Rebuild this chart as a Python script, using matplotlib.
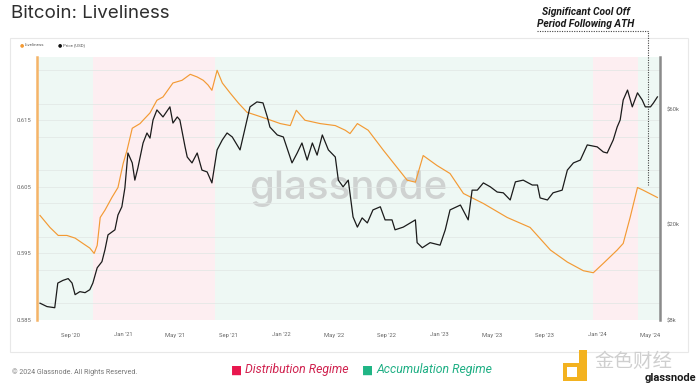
import numpy as np
import pandas as pd
import matplotlib
matplotlib.use("Agg")
import matplotlib.pyplot as plt
import matplotlib.dates as mdates
from matplotlib.patches import Rectangle
from matplotlib.lines import Line2D

# liveliness (left axis)
live_dates = ["2020-06-22", "2020-07-15", "2020-08-03", "2020-08-23", "2020-09-11", "2020-09-29",
              "2020-10-15", "2020-10-25", "2020-11-01", "2020-11-08", "2020-11-19", "2020-12-05",
              "2020-12-19", "2020-12-31", "2021-01-09", "2021-01-21", "2021-02-08", "2021-02-15",
              "2021-03-03", "2021-03-19", "2021-04-02", "2021-04-25", "2021-05-16", "2021-06-04",
              "2021-06-20", "2021-07-04", "2021-07-15", "2021-07-24", "2021-08-05", "2021-08-17",
              "2021-09-04", "2021-09-23", "2021-10-13", "2021-11-01", "2021-11-24", "2021-12-29",
              "2022-01-21", "2022-02-04", "2022-02-24", "2022-03-31", "2022-05-05", "2022-05-28",
              "2022-06-08", "2022-06-25", "2022-07-20", "2022-08-24", "2022-10-18", "2022-11-06",
              "2022-11-24", "2022-12-26", "2023-01-25", "2023-02-25", "2023-04-12", "2023-06-06",
              "2023-07-29", "2023-09-14", "2023-10-23", "2023-11-29", "2023-12-22", "2024-01-14",
              "2024-02-15", "2024-02-29", "2024-03-16", "2024-04-02", "2024-04-15", "2024-05-18"]
liveliness = [0.6007, 0.5989, 0.5977, 0.5977, 0.5973, 0.5965,
              0.5958, 0.5950, 0.5962, 0.6004, 0.6015, 0.6034,
              0.6049, 0.6085, 0.6105, 0.6138, 0.6145, 0.6150,
              0.6161, 0.6180, 0.6185, 0.6206, 0.6210, 0.6219,
              0.6215, 0.6210, 0.6203, 0.6195, 0.6225, 0.6206,
              0.6191, 0.6176, 0.6162, 0.6158, 0.6153, 0.6145,
              0.6142, 0.6165, 0.6150, 0.6145, 0.6142, 0.6135,
              0.6130, 0.6145, 0.6135, 0.6105, 0.6060, 0.6057,
              0.6097, 0.6082, 0.6070, 0.6040, 0.6025, 0.6004,
              0.5989, 0.5955, 0.5937, 0.5924, 0.5921, 0.5935,
              0.5955, 0.5965, 0.6004, 0.6049, 0.6045, 0.6034]

# price in USD (right axis, log)
price_dates = ["2020-06-22", "2020-07-08", "2020-07-26", "2020-08-02", "2020-08-14", "2020-08-26",
               "2020-09-04", "2020-09-11", "2020-09-22", "2020-10-04", "2020-10-15", "2020-10-22",
               "2020-11-01", "2020-11-12", "2020-11-19", "2020-11-26", "2020-12-12", "2020-12-19",
               "2020-12-28", "2021-01-04", "2021-01-11", "2021-01-21", "2021-01-27", "2021-02-03",
               "2021-02-15", "2021-02-24", "2021-03-03", "2021-03-10", "2021-03-19", "2021-04-02",
               "2021-04-18", "2021-04-25", "2021-05-05", "2021-05-11", "2021-05-23", "2021-05-28",
               "2021-06-08", "2021-06-20", "2021-07-01", "2021-07-13", "2021-07-24", "2021-08-05",
               "2021-08-17", "2021-08-28", "2021-09-09", "2021-09-27", "2021-10-13", "2021-10-20",
               "2021-11-05", "2021-11-19", "2021-11-29", "2021-12-05", "2021-12-22", "2022-01-05",
               "2022-01-25", "2022-02-06", "2022-02-17", "2022-03-01", "2022-03-13", "2022-03-24",
               "2022-04-05", "2022-04-19", "2022-05-05", "2022-05-12", "2022-05-23", "2022-06-04",
               "2022-06-15", "2022-06-25", "2022-07-06", "2022-07-18", "2022-07-31", "2022-08-17",
               "2022-08-28", "2022-09-13", "2022-09-20", "2022-10-09", "2022-11-06", "2022-11-10",
               "2022-11-22", "2022-12-10", "2023-01-02", "2023-01-14", "2023-01-25", "2023-02-18",
               "2023-03-08", "2023-03-17", "2023-03-29", "2023-04-12", "2023-04-28", "2023-05-14",
               "2023-05-28", "2023-06-13", "2023-06-25", "2023-07-13", "2023-08-03", "2023-08-15",
               "2023-08-21", "2023-09-07", "2023-09-20", "2023-10-11", "2023-10-23", "2023-11-06",
               "2023-11-22", "2023-12-08", "2023-12-31", "2024-01-14", "2024-01-23", "2024-02-06",
               "2024-02-15", "2024-02-22", "2024-02-29", "2024-03-10", "2024-03-21", "2024-04-02",
               "2024-04-13", "2024-04-20", "2024-05-02", "2024-05-09", "2024-05-18"]
price = [9400, 9100, 9000, 11400, 11700, 11900,
         11400, 10200, 10500, 10400, 10700, 11400,
         13200, 14000, 15700, 18100, 19000, 21900,
         23700, 28400, 39700, 36100, 30600, 34400,
         43700, 48100, 45800, 54500, 60000, 56100,
         61800, 52900, 56100, 54500, 42100, 38200,
         36100, 39700, 33700, 33100, 29800, 40900,
         45000, 48100, 46300, 40900, 54500, 61800,
         64800, 64200, 56100, 50900, 47200, 46300,
         36100, 39700, 43700, 37100, 43700, 38900,
         47200, 40900, 38200, 30600, 28700, 30600,
         21500, 19500, 21300, 20300, 23000, 23700,
         20900, 20900, 19000, 19500, 20900, 16800,
         16000, 16800, 16400, 19000, 23000, 24100,
         20900, 27800, 27800, 29800, 28700, 27300,
         27100, 25300, 30100, 30600, 29200, 29200,
         25800, 25300, 27100, 27800, 33700, 36100,
         37100, 42900, 42100, 40100, 39700, 45000,
         50900, 54500, 66000, 72600, 61800, 70700,
         66000, 61800, 61800, 64200, 68000]

# regime bands
regime_starts = ["2020-06-15", "2020-10-22", "2021-07-31", "2023-12-22", "2024-04-04"]
regime_ends = ["2020-10-22", "2021-07-31", "2023-12-22", "2024-04-04", "2024-05-24"]
regime_kind = ["acc", "dist", "acc", "dist", "acc"]

left_ticks = [0.585, 0.595, 0.605, 0.615]
right_ticks = [8000, 20000, 60000]
right_labels = ["$8k", "$20k", "$60k"]

ORANGE = "#f39a34"
PINK_BG = "#fdeef1"
GREEN_BG = "#eef8f4"

live_dates = pd.to_datetime(live_dates)
price_dates = pd.to_datetime(price_dates)

plt.rcParams["font.family"] = ["Roboto", "DejaVu Sans"]

W, H = 700, 389
fig = plt.figure(figsize=(W / 100, H / 100), dpi=100)
fig.patch.set_facecolor("white")

def fx(px):
    return px / W

def fy(py):
    return 1 - py / H

# card
fig.patches.append(Rectangle((fx(10), fy(352)), fx(678), 314 / H, transform=fig.transFigure,
                             facecolor="white", edgecolor="#e8e8e8", lw=0.8, zorder=-5))

ax = fig.add_axes([fx(37), fy(320), fx(623), 263 / H])
ax.set_facecolor("none")
ax.set_zorder(1)
ax.set_xlim(pd.Timestamp("2020-06-15"), pd.Timestamp("2024-05-24"))
ax.set_ylim(0.585, 0.6245)

for s, e, k in zip(regime_starts, regime_ends, regime_kind):
    ax.axvspan(pd.Timestamp(s), pd.Timestamp(e), color=GREEN_BG if k == "acc" else PINK_BG,
               lw=0, zorder=0)

ax.set_yticks(left_ticks)
ax.set_yticklabels([f"{t:.3f}" for t in left_ticks])
ax.set_yticks(np.arange(0.5875, 0.624, 0.005), minor=True)
ax.grid(axis="y", which="both", color="#e0e6e3", lw=0.5, zorder=1)
ax.tick_params(axis="y", which="both", length=0, labelsize=4.2, labelcolor="#666", pad=4)
ax.tick_params(axis="x", length=0, labelsize=4.2, labelcolor="#666", pad=9)

ax.set_xticks(pd.date_range("2020-09-01", "2024-05-01", freq="4MS"))
ax.xaxis.set_major_formatter(mdates.DateFormatter("%b '%y"))

for sp in ["top", "bottom", "right"]:
    ax.spines[sp].set_visible(False)
ax.spines["left"].set_color("#f5b468")
ax.spines["left"].set_linewidth(1.8)

ax.text(0.5, 0.5, "glassnode", transform=ax.transAxes, ha="center", va="center",
        fontsize=29, color="#cfd2d1", family=["Inter", "DejaVu Sans"], fontweight="medium",
        zorder=1.5)

ax.plot(live_dates, liveliness, color=ORANGE, lw=0.85, zorder=3)

ax2 = ax.twinx()
ax2.set_yscale("log")
ax2.set_ylim(8000, 99700)
ax2.plot(price_dates, price, color="#1b1b1b", lw=0.9, zorder=3)
ax2.set_yticks(right_ticks)
ax2.set_yticklabels(right_labels)
ax2.yaxis.set_minor_locator(matplotlib.ticker.NullLocator())
ax2.tick_params(axis="y", which="both", length=0, labelsize=4.2, labelcolor="#666", pad=5)
for sp in ["top", "bottom", "left"]:
    ax2.spines[sp].set_visible(False)
ax2.spines["right"].set_color("#8a8a8a")
ax2.spines["right"].set_linewidth(1.8)

# title
fig.text(fx(11), fy(14), "Bitcoin: Liveliness", fontsize=13.5, color="#2e2e2e",
         ha="left", va="center", family=["Inter", "DejaVu Sans"])

# small legend
fig.text(fx(20), fy(45), "●", fontsize=3.5, color=ORANGE, ha="left", va="center")
fig.text(fx(25), fy(45), "Liveliness", fontsize=3.2, color="#555", ha="left", va="center")
fig.text(fx(58), fy(45), "●", fontsize=3.5, color="#111", ha="left", va="center")
fig.text(fx(63), fy(45), "Price [USD]", fontsize=3.2, color="#555", ha="left", va="center")

# annotation
fig.text(fx(586), fy(12), "Significant Cool Off", fontsize=7.4, fontweight="bold",
         style="italic", ha="center", va="center", color="#1a1a1a")
fig.text(fx(586), fy(24), "Period Following ATH", fontsize=7.4, fontweight="bold",
         style="italic", ha="center", va="center", color="#1a1a1a")
fig.add_artist(Line2D([fx(537), fx(648), fx(648)], [fy(31), fy(31), fy(185)],
                      transform=fig.transFigure, color="#444", lw=0.8, ls=(0, (1, 1.2)),
                      zorder=5))

# footer
fig.text(fx(12), fy(372), "© 2024 Glassnode. All Rights Reserved.", fontsize=5.1,
         color="#777", ha="left", va="center")
fig.text(fx(231), fy(370), "■", fontsize=8.5, color="#e8174e", ha="left", va="center")
fig.text(fx(245), fy(370), "Distribution Regime", fontsize=8.8, style="italic",
         color="#d0224f", ha="left", va="center")
fig.text(fx(362), fy(370), "■", fontsize=8.5, color="#20b585", ha="left", va="center")
fig.text(fx(376), fy(370), "Accumulation Regime", fontsize=8.8, style="italic",
         color="#1faf84", ha="left", va="center")

# bottom-right logos
fig.patches.append(Rectangle((fx(563), fy(381)), fx(24), 18 / H, transform=fig.transFigure,
                             facecolor="#f3b21f", edgecolor="none"))
fig.patches.append(Rectangle((fx(579), fy(363)), fx(8), 13 / H, transform=fig.transFigure,
                             facecolor="#f3b21f", edgecolor="none"))
fig.patches.append(Rectangle((fx(567), fy(377)), fx(10), 10 / H, transform=fig.transFigure,
                             facecolor="white", edgecolor="none"))
fig.text(fx(594), fy(361), "金色财经", fontsize=14, color="#cfcfcf", ha="left", va="center",
         family=["Noto Sans CJK SC", "DejaVu Sans"])
fig.text(fx(696), fy(378), "glassnode", fontsize=8, fontweight="bold", color="#1a1a1a",
         ha="right", va="center")

fig.savefig("out.png", dpi=100, facecolor="white")
